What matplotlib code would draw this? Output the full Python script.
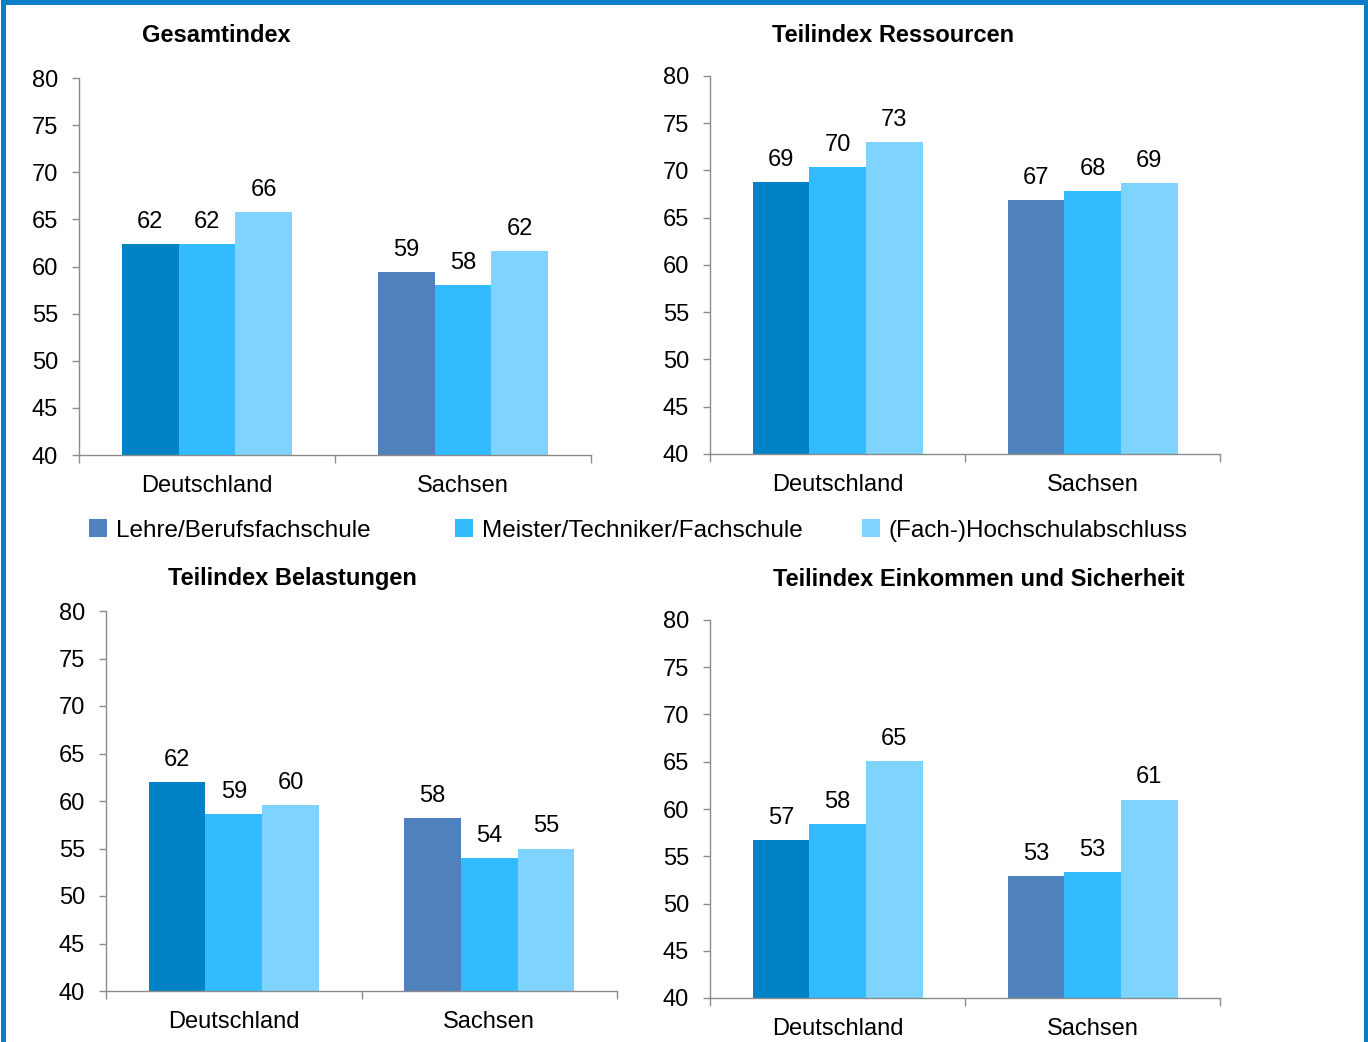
import matplotlib
matplotlib.use("Agg")
import matplotlib.pyplot as plt
from matplotlib.patches import Rectangle

plt.rcParams['font.family'] = ['Liberation Sans', 'DejaVu Sans']

regions = ["Deutschland", "Sachsen"]
series = ["Lehre/Berufsfachschule", "Meister/Techniker/Fachschule", "(Fach-)Hochschulabschluss"]

gesamt = {"Lehre/Berufsfachschule": [62.4, 59.4],
          "Meister/Techniker/Fachschule": [62.4, 58.0],
          "(Fach-)Hochschulabschluss": [65.8, 61.6]}
ressourcen = {"Lehre/Berufsfachschule": [68.8, 66.9],
              "Meister/Techniker/Fachschule": [70.4, 67.8],
              "(Fach-)Hochschulabschluss": [73.0, 68.7]}
belastungen = {"Lehre/Berufsfachschule": [62.0, 58.2],
               "Meister/Techniker/Fachschule": [58.6, 54.0],
               "(Fach-)Hochschulabschluss": [59.6, 55.0]}
einkommen = {"Lehre/Berufsfachschule": [56.7, 52.9],
             "Meister/Techniker/Fachschule": [58.4, 53.3],
             "(Fach-)Hochschulabschluss": [65.1, 61.0]}

titles = ["Gesamtindex", "Teilindex Ressourcen", "Teilindex Belastungen",
          "Teilindex Einkommen und Sicherheit"]

colors = ["#4F81BD", "#33BBFF", "#7FD4FF"]
de_first = "#0083C6"

FS = 17

W, H = 1368, 1042
fig = plt.figure(figsize=(W / 100, H / 100), dpi=100)

def px_axes(left, top, right, bottom):
    return fig.add_axes([left / W, 1 - bottom / H, (right - left) / W, (bottom - top) / H])

panels = [
    (gesamt, (79, 78, 591, 455), (216, 35)),
    (ressourcen, (710, 76, 1220, 454), (893, 35)),
    (belastungen, (106, 611, 617, 991), (292, 579)),
    (einkommen, (710, 620, 1220, 998), (979, 579)),
]

bw = 2 / 9
for (data, box, tpos), title in zip(panels, titles):
    ax = px_axes(*box)
    for i, s in enumerate(series):
        vals = data[s]
        xs = [k + (i - 1) * bw for k in range(len(regions))]
        cols = [colors[i]] * len(regions)
        if i == 0:
            cols[0] = de_first
        ax.bar(xs, [v - 40 for v in vals], bottom=40, width=bw, color=cols, linewidth=0)
        for x, v in zip(xs, vals):
            ax.annotate(f"{round(v)}", (x, v), xytext=(0, 8), textcoords="offset points",
                        ha="center", va="bottom", fontsize=FS)
    ax.set_xlim(-0.5, 1.5)
    ax.set_ylim(40, 80)
    ax.set_yticks(range(40, 81, 5))
    ax.set_xticks(range(len(regions)))
    ax.set_xticklabels(regions)
    ax.set_xticks([-0.5, 0.5, 1.5], minor=True)
    ax.tick_params(axis="x", which="major", length=0, pad=14.5, labelsize=FS)
    ax.tick_params(axis="x", which="minor", length=6, color="#8c8c8c", width=1)
    ax.tick_params(axis="y", length=5, color="#8c8c8c", width=1, pad=10, labelsize=FS)
    for sp in ("top", "right"):
        ax.spines[sp].set_visible(False)
    for sp in ("left", "bottom"):
        ax.spines[sp].set_color("#8c8c8c")
        ax.spines[sp].set_linewidth(1)
    fig.text(tpos[0] / W, 1 - tpos[1] / H, title, ha="center", va="center",
             fontsize=17, fontweight="bold")

# legend row between the panel rows
leg_x = [89, 455, 862]
for x, s, c in zip(leg_x, series, colors):
    fig.patches.append(Rectangle((x / W, 1 - 537 / H), 18 / W, 18 / H,
                                 transform=fig.transFigure, color=c, lw=0))
    fig.text((x + 27) / W, 1 - 531 / H, s, ha="left", va="center", fontsize=17.5)

# frame around the figure
fig.patches.append(Rectangle((2.5 / W, -0.05), (W - 5) / W, 1.05 - 2.5 / H,
                             transform=fig.transFigure, fill=False,
                             edgecolor="#0A7FC8", lw=3.6))

fig.savefig("out.png", dpi=100)
